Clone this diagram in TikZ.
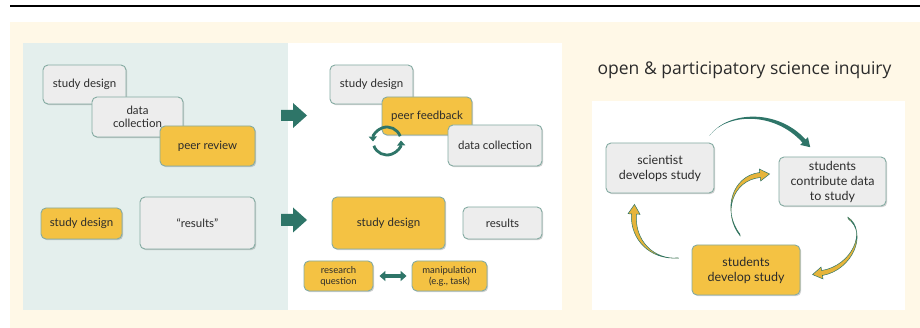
\documentclass[tikz,border=0pt]{standalone}
\usepackage{fontspec}
\setmainfont{Lato}
\newfontfamily\titlefont{Open Sans}
\usetikzlibrary{calc,shadows,arrows.meta}
\definecolor{cream}{HTML}{FFF8E7}
\definecolor{panelteal}{HTML}{E4EFED}
\definecolor{darkteal}{HTML}{2E7568}
\definecolor{boxgray}{HTML}{EDEDED}
\definecolor{boxyellow}{HTML}{F4C243}
\definecolor{boxedge}{HTML}{84ABA2}
\definecolor{txt}{HTML}{2B2B2B}
\definecolor{gold}{HTML}{E6B43A}
\tikzset{
  box/.style={draw=boxedge, line width=0.9pt, rounded corners=5pt, align=center,
    text=txt, font=\fontsize{11.5}{13.5}\selectfont, inner sep=0pt,
    drop shadow={shadow xshift=1.2pt, shadow yshift=-1.2pt, opacity=0.25, fill=black!70}},
  graybox/.style={box, fill=boxgray},
  yellowbox/.style={box, fill=boxyellow},
  smallbox/.style={yellowbox, font=\fontsize{9.5}{11}\selectfont},
  rightbox/.style={font=\fontsize{12.5}{15}\selectfont},
  circarrow/.style={draw=darkteal, line width=2.8pt, -{Triangle[width=8pt,length=5pt]}},
  dblarrow/.style={draw=darkteal, line width=3.5pt, {Triangle[width=10pt,length=6pt]}-{Triangle[width=10pt,length=6pt]}},
  tealtaper/.style={fill=darkteal},
  goldtaper/.style={fill=gold, draw=darkteal, line width=0.5pt},
}
% #1 style, #2 tail, #3 c1, #4 c2, #5 head base, #6 dx, #7 dy, #8 half width, #9 head half width
\newcommand{\taperarrow}[9]{%
  \path[#1]
    ($(#2)+({-#7*0.8},{#6*0.8})$)
    .. controls ($(#3)+({-#7*#8*0.5},{#6*#8*0.5})$) and ($(#4)+({-#7*#8*0.9},{#6*#8*0.9})$)
    .. ($(#5)+({-#7*#8},{#6*#8})$)
    -- ($(#5)+({-#7*#9},{#6*#9})$)
    -- ($(#5)+({#6*#9*1.6},{#7*#9*1.6})$)
    -- ($(#5)+({#7*#9},{-#6*#9})$)
    -- ($(#5)+({#7*#8},{-#6*#8})$)
    .. controls ($(#4)+({#7*#8*0.9},{-#6*#8*0.9})$) and ($(#3)+({#7*#8*0.5},{-#6*#8*0.5})$)
    .. ($(#2)+({#7*0.8},{-#6*0.8})$) -- cycle;}
\begin{document}
\begin{tikzpicture}[x=1pt,y=-1pt]
\useasboundingbox (0,0) rectangle (920,328);
\fill[white] (0,0) rectangle (920,328);
\draw[line width=1.6pt, black] (10,6) -- (920,6);
\fill[cream] (10,22) rectangle (920,328);
\fill[panelteal] (23,43) rectangle (288,310.5);
\fill[white] (288,43) rectangle (562,310.5);
\fill[white] (592,101) rectangle (905,310.5);

% left panel
\node[graybox, minimum width=83pt, minimum height=39pt] (l1) at (84.5,84.5) {study design};
\node[graybox, minimum width=91pt, minimum height=40pt] (l2) at (137.5,117) {data\\collection};
\node[yellowbox, minimum width=95pt, minimum height=40pt] (l3) at (207.5,146) {peer review};
\node[yellowbox, minimum width=81pt, minimum height=31pt] (l4) at (81.5,223.5) {study design};
\node[graybox, minimum width=115pt, minimum height=52pt] (l5) at (197.5,223) {“results”};

% block arrows
\fill[darkteal] (281,110) -- (293,110) -- (293,103) -- (307,115.5) -- (293,128) -- (293,121) -- (281,121) -- cycle;
\fill[darkteal] (281,214) -- (293,214) -- (293,207.5) -- (307,220) -- (293,232.5) -- (293,226) -- (281,226) -- cycle;

% middle panel
\node[graybox, minimum width=83pt, minimum height=39pt] (m1) at (371.5,84.5) {study design};
\node[yellowbox, minimum width=90pt, minimum height=38pt] (m2) at (427,116) {peer feedback};
\coordinate (cc) at (387,141);
\draw[circarrow] ($(cc)+(-20:14)$) arc[start angle=-20, end angle=-182, radius=14];
\draw[circarrow] ($(cc)+(160:14)$) arc[start angle=160, end angle=-2, radius=14];
\node[graybox, minimum width=94pt, minimum height=41pt] (m3) at (495,145.5) {data collection};
\node[yellowbox, minimum width=113pt, minimum height=52pt] (m4) at (388.5,223) {study design};
\node[graybox, minimum width=79pt, minimum height=32pt] (m5) at (502.5,223) {results};
\node[smallbox, minimum width=69pt, minimum height=30pt] (m6) at (338.5,276) {research\\question};
\node[smallbox, minimum width=75pt, minimum height=30pt] (m7) at (449.5,276) {manipulation\\(e.g., task)};
\draw[dblarrow, shorten <=6pt, shorten >=5pt] (m6.east) -- (m7.west);

% right panel
\node[anchor=base, text=txt, font=\titlefont\fontsize{17.5}{20}\selectfont] (title) at (744.5,75) {open \& participatory science inquiry};
\node[graybox, rightbox, minimum width=108pt, minimum height=50pt] (r1) at (660,168) {scientist\\develops study};
\node[graybox, rightbox, minimum width=107pt, minimum height=49pt] (r2) at (832.5,181.5) {students\\contribute data\\to study};
\node[yellowbox, rightbox, minimum width=108pt, minimum height=50pt] (r3) at (746,270) {students\\develop study};

\taperarrow{tealtaper}{710,135}{728,112}{776,110}{804,141}{0.707}{0.707}{2.2}{5.5}
\taperarrow{goldtaper}{678,258}{652,260}{632,240}{634,214}{0.05}{-0.999}{2.5}{6}
\taperarrow{goldtaper}{740,235}{722,212}{732,178}{760,175}{0.994}{-0.107}{2.5}{6}
\taperarrow{goldtaper}{848,218}{868,232}{852,268}{822,273}{-0.986}{0.164}{2.5}{6}
\end{tikzpicture}
\end{document}
